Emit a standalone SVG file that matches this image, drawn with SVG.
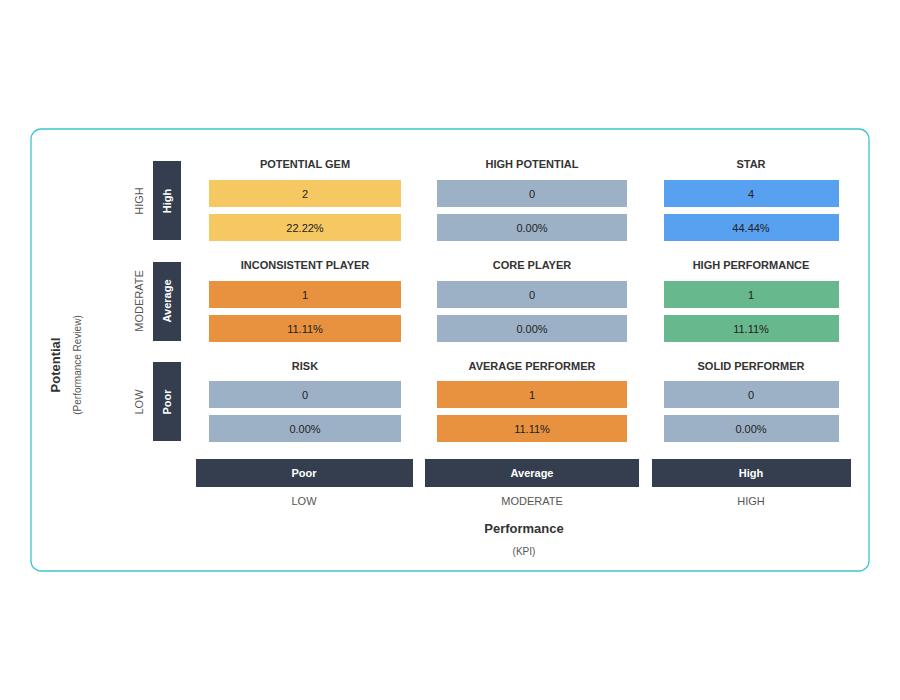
<svg xmlns="http://www.w3.org/2000/svg" width="900" height="700" viewBox="0 0 900 700">
<style>
text{font-family:"Liberation Sans",Arial,sans-serif;text-anchor:middle;dominant-baseline:central}
.t{font-size:11px;font-weight:bold;fill:#333}
.v{font-size:11px;fill:#222}
.dk{fill:#343e4e}
.w{font-size:11px;font-weight:bold;fill:#fff}
.ax{font-size:11px;fill:#555}
.y{fill:#f5c862}.g{fill:#9db1c6}.b{fill:#58a0f0}.o{fill:#e8913f}.gr{fill:#67b88c}
</style>
<rect x="31" y="129" width="838" height="442" rx="10" fill="#fff" stroke="#3fc4d0" stroke-width="1.3"/>
<g id="rowlabels">
<rect class="dk" x="153" y="161" width="28" height="79"/><text class="w" transform="translate(167,201) rotate(-90)">High</text>
<text class="ax" transform="translate(139,201) rotate(-90)">HIGH</text>
<rect class="dk" x="153" y="262" width="28" height="79"/><text class="w" transform="translate(167,301) rotate(-90)">Average</text>
<text class="ax" transform="translate(139,301) rotate(-90)">MODERATE</text>
<rect class="dk" x="153" y="362" width="28" height="79"/><text class="w" transform="translate(167,402) rotate(-90)">Poor</text>
<text class="ax" transform="translate(139,402) rotate(-90)">LOW</text>
</g>
<g id="yaxis">
<text transform="translate(55,365) rotate(-90)" style="font-size:13px;font-weight:bold;fill:#333">Potential</text>
<text transform="translate(77,365) rotate(-90)" style="font-size:10px;fill:#555">(Performance Review)</text>
</g>
<g id="potential-gem"><text class="t" x="305" y="164">POTENTIAL GEM</text>
<rect class="y" x="209" y="180" width="192" height="27"/><text class="v" x="305" y="194">2</text>
<rect class="y" x="209" y="214" width="192" height="27"/><text class="v" x="305" y="228">22.22%</text></g>
<g id="high-potential"><text class="t" x="532" y="164">HIGH POTENTIAL</text>
<rect class="g" x="437" y="180" width="190" height="27"/><text class="v" x="532" y="194">0</text>
<rect class="g" x="437" y="214" width="190" height="27"/><text class="v" x="532" y="228">0.00%</text></g>
<g id="star"><text class="t" x="751" y="164">STAR</text>
<rect class="b" x="664" y="180" width="175" height="27"/><text class="v" x="751" y="194">4</text>
<rect class="b" x="664" y="214" width="175" height="27"/><text class="v" x="751" y="228">44.44%</text></g>
<g id="inconsistent-player"><text class="t" x="305" y="265">INCONSISTENT PLAYER</text>
<rect class="o" x="209" y="281" width="192" height="27"/><text class="v" x="305" y="295">1</text>
<rect class="o" x="209" y="315" width="192" height="27"/><text class="v" x="305" y="329">11.11%</text></g>
<g id="core-player"><text class="t" x="532" y="265">CORE PLAYER</text>
<rect class="g" x="437" y="281" width="190" height="27"/><text class="v" x="532" y="295">0</text>
<rect class="g" x="437" y="315" width="190" height="27"/><text class="v" x="532" y="329">0.00%</text></g>
<g id="high-performance"><text class="t" x="751" y="265">HIGH PERFORMANCE</text>
<rect class="gr" x="664" y="281" width="175" height="27"/><text class="v" x="751" y="295">1</text>
<rect class="gr" x="664" y="315" width="175" height="27"/><text class="v" x="751" y="329">11.11%</text></g>
<g id="risk"><text class="t" x="305" y="366">RISK</text>
<rect class="g" x="209" y="381" width="192" height="27"/><text class="v" x="305" y="395">0</text>
<rect class="g" x="209" y="415" width="192" height="27"/><text class="v" x="305" y="429">0.00%</text></g>
<g id="average-performer"><text class="t" x="532" y="366">AVERAGE PERFORMER</text>
<rect class="o" x="437" y="381" width="190" height="27"/><text class="v" x="532" y="395">1</text>
<rect class="o" x="437" y="415" width="190" height="27"/><text class="v" x="532" y="429">11.11%</text></g>
<g id="solid-performer"><text class="t" x="751" y="366">SOLID PERFORMER</text>
<rect class="g" x="664" y="381" width="175" height="27"/><text class="v" x="751" y="395">0</text>
<rect class="g" x="664" y="415" width="175" height="27"/><text class="v" x="751" y="429">0.00%</text></g>
<g id="collabels">
<rect class="dk" x="196" y="459" width="217" height="28"/><text class="w" x="304" y="473">Poor</text><text class="ax" x="304" y="501">LOW</text>
<rect class="dk" x="425" y="459" width="214" height="28"/><text class="w" x="532" y="473">Average</text><text class="ax" x="532" y="501">MODERATE</text>
<rect class="dk" x="652" y="459" width="199" height="28"/><text class="w" x="751" y="473">High</text><text class="ax" x="751" y="501">HIGH</text>
</g>
<g id="xaxis">
<text x="524" y="528" style="font-size:13px;font-weight:bold;fill:#333">Performance</text>
<text x="524" y="551" style="font-size:10px;fill:#555">(KPI)</text>
</g>
<g id="connectors"/>
</svg>
